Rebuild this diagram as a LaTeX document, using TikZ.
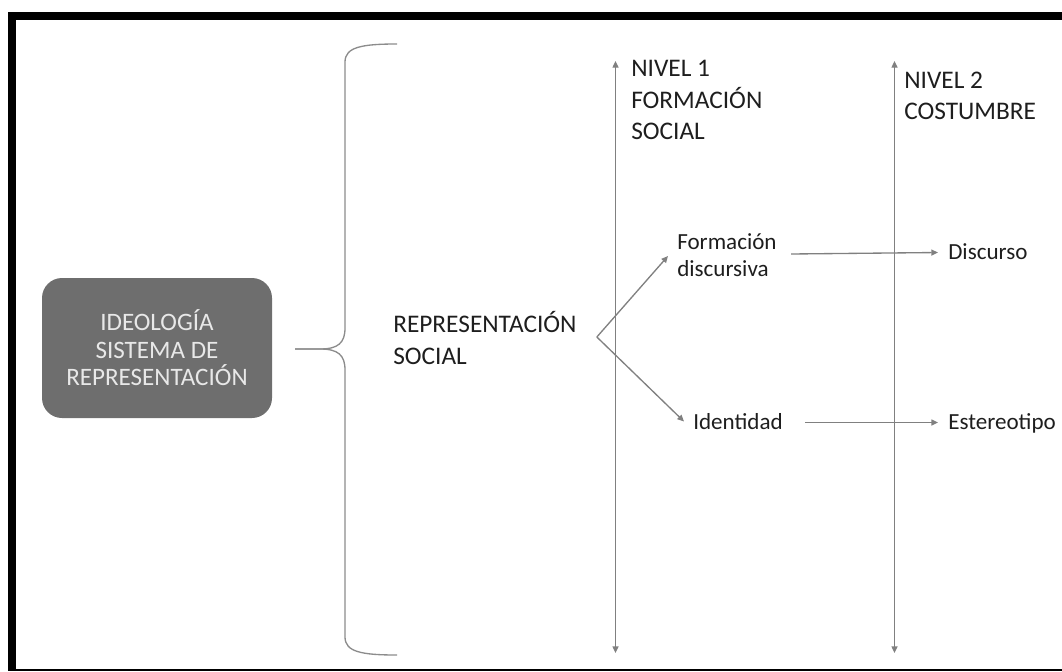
\documentclass[tikz,border=0pt]{standalone}
\usepackage{fontspec}
\setmainfont{Carlito}
\usetikzlibrary{arrows.meta,calc}
\definecolor{boxgray}{HTML}{6E6E6E}
\definecolor{linegray}{HTML}{808080}
\definecolor{bracegray}{HTML}{8C8C8C}
\definecolor{txt}{HTML}{1E1E1E}
\definecolor{boxtxt}{HTML}{E8E8E8}
\begin{document}
\begin{tikzpicture}[x=0.75pt,y=-0.75pt,
  tip/.tip={Triangle[length=5pt,width=4.5pt]},
  arr/.style={draw=linegray, line width=1pt, -tip},
  darr/.style={draw=linegray, line width=1pt, tip-tip},
  capslbl/.style={inner sep=0pt, text=txt, font=\fontsize{19}{23.5}\selectfont, align=left, anchor=west},
  lowlbl/.style={inner sep=0pt, text=txt, font=\fontsize{17.3}{19.8}\selectfont, align=left},
  ideobox/.style={fill=boxgray, rounded corners=15pt, minimum width=172.5pt, minimum height=105pt,
    inner sep=0pt, text=boxtxt, align=center, font=\fontsize{18.8}{20.6}\selectfont},
  bracestyle/.style={draw=bracegray, line width=1pt}]
\useasboundingbox (0,0) rectangle (1062,671);
% frame
\fill[black] (8,12) rectangle (1062,20);
\fill[black] (8,12) rectangle (16,671);
\fill[black] (8,668.5) rectangle (1062,671);
% box
\node[ideobox] (ideo) at (157,348) {IDEOLOGÍA\\SISTEMA DE\\REPRESENTACIÓN};
% brace
\coordinate (bt) at (295,349);
\draw[bracestyle] (397,44) .. controls (362,44) and (345,47) .. (345,62) -- (345,328)
  .. controls (345,343) and (338,349) .. (320,349) -- (bt);
\draw[bracestyle] (bt) -- (320,349) .. controls (338,349) and (345,355) .. (345,370)
  -- (345,637) .. controls (345,652) and (362,655) .. (397,655);
% labels
\node[capslbl] (rep) at (393,338) {REPRESENTACIÓN\\SOCIAL};
\node[capslbl] (n1) at (631,100) {NIVEL 1\\FORMACIÓN\\SOCIAL};
\node[capslbl] (n2) at (904,96) {NIVEL 2\\COSTUMBRE};
\node[lowlbl, anchor=west] (fd) at (677,255) {Formación\\discursiva};
\node[lowlbl, anchor=base west] (iden) at (693,429.5) {Identidad};
\node[lowlbl, anchor=base west] (disc) at (948,259.5) {Discurso};
\node[lowlbl, anchor=base west] (este) at (948,429.5) {Estereotipo};
% vertical level axes
\coordinate (v1t) at (615.5,61);
\coordinate (v1b) at (615.5,653);
\coordinate (v2t) at (894.5,61);
\coordinate (v2b) at (894.5,653);
\draw[darr] (v1t) -- (v1b);
\draw[darr] (v2t) -- (v2b);
% branch
\coordinate (br) at ($(rep.east)+(20,-1)$);
\draw[arr] (br) -- ($(fd.west)+(-9,1)$);
\draw[arr] (br) -- ($(iden.base west)+(-9,-8)$);
% horizontal arrows
\draw[arr] ($(fd.west)+(114,-1)$) -- ($(disc.base west)+(-10,-7)$);
\draw[arr] ($(iden.base west)+(112,-7)$) -- ($(este.base west)+(-10,-7)$);
\end{tikzpicture}
\end{document}
